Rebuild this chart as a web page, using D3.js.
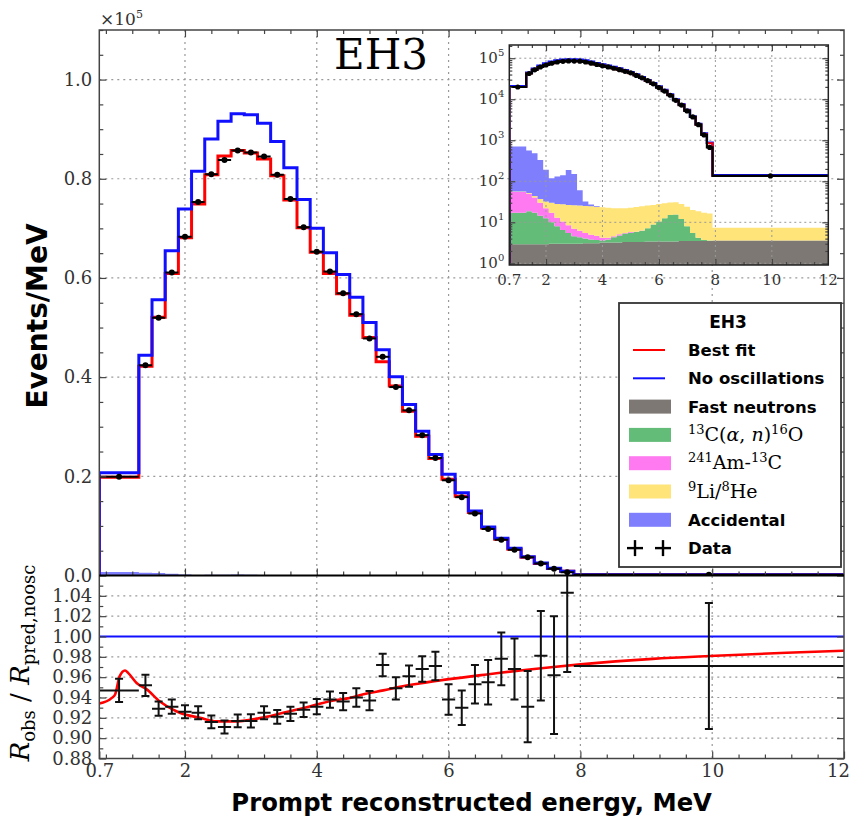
<!DOCTYPE html>
<html>
<head>
<meta charset="utf-8">
<script src="https://cdn.jsdelivr.net/npm/d3@7/dist/d3.min.js"></script>
<style>
  body { margin: 0; background: #fff; }
  .tick text { font-family: "DejaVu Serif", serif; fill: #333; }
  .tick line { stroke: #444; stroke-width: 1.2; }
</style>
</head>
<body>
<svg id="chart" width="853" height="820"></svg>
<script>
// ---- data ----
// bin edges in MeV
const binEdges = [0.7, 1.3, 1.5, 1.7, 1.9, 2.1, 2.3, 2.5, 2.7, 2.9, 3.1, 3.3, 3.5, 3.7, 3.9,
  4.1, 4.3, 4.5, 4.7, 4.9, 5.1, 5.3, 5.5, 5.7, 5.9, 6.1, 6.3, 6.5, 6.7, 6.9, 7.1, 7.3, 7.5, 7.7, 7.9, 12];
// events/MeV in units of 1e5
const dataRate = [0.199, 0.424, 0.520, 0.611, 0.683, 0.753, 0.809, 0.838, 0.857, 0.853,
  0.845, 0.808, 0.759, 0.702, 0.653, 0.613, 0.569, 0.527, 0.478, 0.441,
  0.380, 0.333, 0.283, 0.237, 0.192, 0.158, 0.125, 0.094, 0.072, 0.052,
  0.037, 0.024, 0.0135, 0.0067, 0.00135];
const bestFit = [0.198, 0.422, 0.521, 0.609, 0.681, 0.749, 0.808, 0.846, 0.857, 0.852,
  0.840, 0.806, 0.757, 0.701, 0.652, 0.609, 0.568, 0.525, 0.480, 0.431,
  0.382, 0.331, 0.281, 0.236, 0.194, 0.160, 0.127, 0.096, 0.073, 0.053,
  0.037, 0.024, 0.0140, 0.0084, 0.00135];
const noOsc = [0.207, 0.444, 0.556, 0.655, 0.739, 0.815, 0.880, 0.916, 0.931, 0.929,
  0.912, 0.875, 0.822, 0.758, 0.700, 0.651, 0.607, 0.561, 0.510, 0.455,
  0.401, 0.345, 0.291, 0.244, 0.204, 0.167, 0.130, 0.098, 0.075, 0.055,
  0.038, 0.025, 0.0147, 0.0087, 0.0014];
// backgrounds, events/MeV (each component, not stacked)
const fastNeutrons = [2.9, 2.9, 2.9, 2.9, 2.9, 3.0, 3.0, 3.0, 3.0, 3.0,
  3.0, 3.1, 3.1, 3.1, 3.2, 3.2, 3.2, 3.2, 3.3, 3.3,
  3.3, 3.3, 3.4, 3.4, 3.4, 3.4, 3.4, 3.4, 3.5, 3.5,
  3.5, 3.5, 3.5, 3.5, 3.6];
const carbonAlphaN = [14.1, 15.6, 14.1, 11.6, 9.6, 7.0, 5.0, 3.5, 2.5, 1.6,
  1.3, 0.9, 0.7, 0.6, 0.4, 0.6, 1.1, 1.6, 2.0, 2.3,
  2.5, 2.9, 3.8, 5.4, 7.1, 9.1, 11.6, 12.1, 8.5, 4.5,
  2.0, 0.7, 0.2, 0.1, 0.0];
const amC = [38, 31.5, 23, 15.5, 9.5, 7, 5, 4, 3, 2.4,
  1.9, 1.5, 1.2, 1.0, 0.6, 0.4, 0.3, 0.3, 0.2, 0.2,
  0.1, 0.1, 0, 0, 0, 0, 0, 0, 0, 0,
  0, 0, 0, 0, 0];
const liHe = [1, 2, 4, 7, 10, 13, 15, 17, 18, 19,
  19.3, 19.5, 19.5, 19.3, 19, 18.3, 17.4, 16.9, 16.5, 16.7,
  17.6, 18.2, 18.3, 17.7, 17.5, 16.5, 15.5, 15.5, 16, 16,
  14.5, 14.3, 13.3, 12.9, 3.8];
const accidental = [644, 508, 436, 293, 158, 88, 102, 112, 163, 124,
  35, 7, 2.5, 1, 0, 0, 0, 0, 0, 0,
  0, 0, 0, 0, 0, 0, 0, 0, 0, 0,
  0, 0, 0, 0, 0];
// ratio panel
const ratioVals = [0.947, 0.952, 0.929, 0.931, 0.926, 0.925, 0.916, 0.911, 0.917, 0.917,
  0.925, 0.921, 0.924, 0.928, 0.931, 0.938, 0.936, 0.940, 0.937, 0.972,
  0.949, 0.961, 0.968, 0.971, 0.938, 0.930, 0.953, 0.955, 0.978, 0.968,
  0.931, 0.981, 0.962, 1.043, 0.971];
const ratioErr = [0.0115, 0.0105, 0.007, 0.007, 0.0065, 0.0065, 0.0063, 0.0063, 0.0063, 0.0065,
  0.0065, 0.0068, 0.007, 0.0072, 0.0075, 0.008, 0.0085, 0.009, 0.0095, 0.011,
  0.011, 0.0105, 0.0125, 0.014, 0.015, 0.017, 0.019, 0.022, 0.026, 0.030,
  0.035, 0.044, 0.058, 0.078, 0.062];
const fitCurveE = [0.7, 0.89, 0.94, 1.01, 1.09, 1.14, 1.27, 1.42, 1.62, 1.82, 1.92, 2.23, 2.48, 2.73,
  2.99, 3.24, 3.49, 3.74, 4.0, 4.25, 4.5, 4.76, 5.01, 5.26, 5.56, 6.58, 7.59, 8.0, 9.1, 9.96, 11.13, 12.0];
const fitCurveR = [0.934, 0.9396, 0.943, 0.961, 0.9666, 0.964, 0.954, 0.948, 0.936, 0.928, 0.925, 0.920, 0.9165, 0.9165,
  0.918, 0.921, 0.925, 0.9287, 0.933, 0.937, 0.9396, 0.9439, 0.947, 0.9505, 0.9538, 0.9627, 0.970, 0.9726, 0.978, 0.9808, 0.984, 0.986];
// tick labels
const xTickVals = [0.7, 2, 4, 6, 8, 10, 12];
const mainYTicks = [0.0, 0.2, 0.4, 0.6, 0.8, 1.0];
const ratioYTicks = [0.88, 0.90, 0.92, 0.94, 0.96, 0.98, 1.00, 1.02, 1.04];
const insetYTicks = [1, 10, 100, 1000, 10000, 100000];
const bgKeys = ['fast', 'carbon', 'amc', 'lihe', 'acc'];
const bgColors = { fast: '#7d7873', carbon: '#63bd78', amc: '#ff7af0', lihe: '#ffe47a', acc: '#7f7ffd' };

const RED = '#ff0000', BLUE = '#1010ff';
const svg = d3.select('#chart');

const mainTop = 30, mainBot = 575.5, ratioBot = 758.5, left = 99.3, right = 844;
const x = d3.scaleLinear().domain([0.7, 12]).range([left, right]);
const y = d3.scaleLinear().domain([0, 1.1]).range([mainBot, mainTop]);
const yr = d3.scaleLinear().domain([0.88, 1.06]).range([ratioBot, mainBot]);

const centers = binEdges.slice(0, -1).map((e, i) => (e + binEdges[i + 1]) / 2);
const bgRows = centers.map((c, i) => ({
  fast: fastNeutrons[i], carbon: carbonAlphaN[i], amc: amC[i], lihe: liHe[i], acc: accidental[i]
}));
const stacked = d3.stack().keys(bgKeys)(bgRows);

function stepLine(sx, sy, vals, base) {
  let pts = [[binEdges[0], base]];
  vals.forEach((v, i) => pts.push([binEdges[i], v]));
  pts.push([binEdges[binEdges.length - 1], vals[vals.length - 1]]);
  return d3.line().x(d => sx(d[0])).y(d => sy(d[1])).curve(d3.curveStepAfter)(pts);
}
function stepArea(sx, sy, layer, floor) {
  let pts = layer.map((d, i) => ({ x: binEdges[i], y0: d[0], y1: d[1] }));
  let last = layer[layer.length - 1];
  pts.push({ x: binEdges[binEdges.length - 1], y0: last[0], y1: last[1] });
  return d3.area().x(d => sx(d.x))
    .y0(d => sy(Math.max(d.y0, floor))).y1(d => sy(Math.max(d.y1, floor)))
    .curve(d3.curveStepAfter)(pts);
}
function clean(g) { g.select('.domain').remove(); }
function minorRange(a, b, step, majorStep) {
  return d3.range(Math.round(a / step), Math.round(b / step) + 1)
    .map(k => +(k * step).toFixed(4))
    .filter(v => Math.abs(v / majorStep - Math.round(v / majorStep)) > 1e-6);
}

const defs = svg.append('defs');
defs.append('clipPath').attr('id', 'clipMain').append('rect')
  .attr('x', left).attr('y', mainTop).attr('width', right - left).attr('height', mainBot - mainTop);
defs.append('clipPath').attr('id', 'clipRatio').append('rect')
  .attr('x', left).attr('y', mainBot).attr('width', right - left).attr('height', ratioBot - mainBot);

// ---- grids ----
const grid = svg.append('g').attr('stroke', '#999').attr('stroke-width', 1.2).attr('stroke-dasharray', '2,4');
[2, 4, 6, 8, 10].forEach(v => {
  grid.append('line').attr('x1', x(v)).attr('x2', x(v)).attr('y1', mainTop).attr('y2', ratioBot);
});
[0.2, 0.4, 0.6, 0.8, 1.0].forEach(v => {
  grid.append('line').attr('x1', left).attr('x2', right).attr('y1', y(v)).attr('y2', y(v));
});
ratioYTicks.slice(1).forEach(v => {
  grid.append('line').attr('x1', left).attr('x2', right).attr('y1', yr(v)).attr('y2', yr(v));
});

// ---- main panel ----
const main = svg.append('g').attr('clip-path', 'url(#clipMain)');
stacked.forEach(layer => {
  main.append('path').attr('d', stepArea(x, v => y(v / 1e5), layer, 0))
    .attr('fill', bgColors[layer.key]);
});
main.append('path').attr('d', stepLine(x, y, bestFit, 0))
  .attr('fill', 'none').attr('stroke', RED).attr('stroke-width', 3);
main.append('path').attr('d', stepLine(x, y, noOsc, 0))
  .attr('fill', 'none').attr('stroke', BLUE).attr('stroke-width', 3);
const pts = main.append('g');
dataRate.forEach((v, i) => {
  pts.append('line').attr('x1', x(binEdges[i])).attr('x2', x(binEdges[i + 1]))
    .attr('y1', y(v)).attr('y2', y(v)).attr('stroke', '#000').attr('stroke-width', 2);
  pts.append('circle').attr('cx', x(centers[i])).attr('cy', y(v)).attr('r', 3).attr('fill', '#000');
});

// main axes ticks
const xMinor = minorRange(0.8, 11.6, 0.4, 2);
const yMinor = minorRange(0.05, 1.1, 0.05, 0.2);
[[mainBot, d3.axisBottom], [mainTop, d3.axisTop]].forEach(([yy, ax]) => {
  svg.append('g').attr('transform', `translate(0,${yy})`)
    .call(ax(x).tickValues([2, 4, 6, 8, 10]).tickSizeInner(-7).tickSizeOuter(0).tickFormat('')).call(clean);
  svg.append('g').attr('transform', `translate(0,${yy})`)
    .call(ax(x).tickValues(xMinor).tickSizeInner(-4).tickSizeOuter(0).tickFormat('')).call(clean);
});
svg.append('g').attr('transform', `translate(${left},0)`)
  .call(d3.axisLeft(y).tickValues(mainYTicks).tickSizeInner(-7).tickSizeOuter(0).tickPadding(7)
    .tickFormat(d3.format('.1f'))).call(clean)
  .selectAll('text').style('font-size', '18px');
svg.append('g').attr('transform', `translate(${left},0)`)
  .call(d3.axisLeft(y).tickValues(yMinor).tickSizeInner(-4).tickSizeOuter(0).tickFormat('')).call(clean);
svg.append('g').attr('transform', `translate(${right},0)`)
  .call(d3.axisRight(y).tickValues(mainYTicks).tickSizeInner(-7).tickSizeOuter(0).tickFormat('')).call(clean);
svg.append('g').attr('transform', `translate(${right},0)`)
  .call(d3.axisRight(y).tickValues(yMinor).tickSizeInner(-4).tickSizeOuter(0).tickFormat('')).call(clean);

// ---- ratio panel ----
const ratio = svg.append('g').attr('clip-path', 'url(#clipRatio)');
ratio.append('line').attr('x1', left).attr('x2', right).attr('y1', yr(1)).attr('y2', yr(1))
  .attr('stroke', BLUE).attr('stroke-width', 2);
const fitPts = fitCurveE.map((e, i) => [e, fitCurveR[i]]);
ratio.append('path')
  .attr('d', d3.line().x(d => x(d[0])).y(d => yr(d[1])).curve(d3.curveMonotoneX)(fitPts))
  .attr('fill', 'none').attr('stroke', RED).attr('stroke-width', 2.6);
const eb = ratio.append('g').attr('stroke', '#111').attr('stroke-width', 2);
ratioVals.forEach((v, i) => {
  const cx = x(centers[i]);
  const top = yr(v + ratioErr[i]), bot = yr(v - ratioErr[i]);
  eb.append('line').attr('x1', x(binEdges[i])).attr('x2', x(binEdges[i + 1])).attr('y1', yr(v)).attr('y2', yr(v));
  eb.append('line').attr('x1', cx).attr('x2', cx).attr('y1', top).attr('y2', bot);
  eb.append('line').attr('x1', cx - 4).attr('x2', cx + 4).attr('y1', top).attr('y2', top);
  eb.append('line').attr('x1', cx - 4).attr('x2', cx + 4).attr('y1', bot).attr('y2', bot);
});

const rMinor = minorRange(0.89, 1.05, 0.01, 0.02);
const xLab = svg.append('g').attr('transform', `translate(0,${ratioBot})`)
  .call(d3.axisBottom(x).tickValues(xTickVals).tickSizeInner(-7).tickSizeOuter(0).tickPadding(6)
    .tickFormat(d => d === 0.7 ? '0.7' : d3.format('d')(d))).call(clean);
xLab.selectAll('text').style('font-size', '18px').attr('dx', d => d === 12 ? -6 : 0);
svg.append('g').attr('transform', `translate(0,${ratioBot})`)
  .call(d3.axisBottom(x).tickValues(xMinor).tickSizeInner(-4).tickSizeOuter(0).tickFormat('')).call(clean);
svg.append('g').attr('transform', `translate(${left},0)`)
  .call(d3.axisLeft(yr).tickValues(ratioYTicks).tickSizeInner(-7).tickSizeOuter(0).tickPadding(7)
    .tickFormat(d3.format('.2f'))).call(clean)
  .selectAll('text').style('font-size', '18px');
svg.append('g').attr('transform', `translate(${left},0)`)
  .call(d3.axisLeft(yr).tickValues(rMinor).tickSizeInner(-4).tickSizeOuter(0).tickFormat('')).call(clean);
svg.append('g').attr('transform', `translate(${right},0)`)
  .call(d3.axisRight(yr).tickValues(ratioYTicks).tickSizeInner(-7).tickSizeOuter(0).tickFormat('')).call(clean);

// spines
svg.append('rect').attr('x', left).attr('y', mainTop).attr('width', right - left).attr('height', ratioBot - mainTop)
  .attr('fill', 'none').attr('stroke', '#444').attr('stroke-width', 1.5);
svg.append('line').attr('x1', left).attr('x2', right).attr('y1', mainBot).attr('y2', mainBot)
  .attr('stroke', '#000').attr('stroke-width', 2.2);

// ---- inset ----
const inL = 509.3, inR = 828.3, inT = 45, inB = 265;
const ix = d3.scaleLinear().domain([0.7, 12]).range([inL, inR]);
const iy = d3.scaleLog().domain([0.91, 2.1e5]).range([inB, inT]);
defs.append('clipPath').attr('id', 'clipInset').append('rect')
  .attr('x', inL).attr('y', inT).attr('width', inR - inL).attr('height', inB - inT);
svg.append('rect').attr('x', inL).attr('y', inT).attr('width', inR - inL).attr('height', inB - inT).attr('fill', '#fff');
const inset = svg.append('g').attr('clip-path', 'url(#clipInset)');
stacked.forEach(layer => {
  inset.append('path').attr('d', stepArea(ix, iy, layer, 0.91)).attr('fill', bgColors[layer.key]);
});
const igrid = inset.append('g').attr('stroke', '#999').attr('stroke-width', 1).attr('stroke-dasharray', '2,3');
[2, 4, 6, 8, 10].forEach(v => igrid.append('line').attr('x1', ix(v)).attr('x2', ix(v)).attr('y1', inT).attr('y2', inB));
insetYTicks.forEach(v => igrid.append('line').attr('x1', inL).attr('x2', inR).attr('y1', iy(v)).attr('y2', iy(v)));
inset.append('path').attr('d', stepLine(ix, iy, noOsc.map(v => v * 1e5), 0.91))
  .attr('fill', 'none').attr('stroke', BLUE).attr('stroke-width', 2.5);
inset.append('path').attr('d', stepLine(ix, iy, bestFit.map(v => v * 1e5), 0.91))
  .attr('fill', 'none').attr('stroke', RED).attr('stroke-width', 2);
inset.append('path').attr('d', stepLine(ix, iy, dataRate.map(v => v * 1e5), 0.91))
  .attr('fill', 'none').attr('stroke', '#000').attr('stroke-width', 2.2);
dataRate.forEach((v, i) => {
  inset.append('circle').attr('cx', ix(centers[i])).attr('cy', iy(v * 1e5)).attr('r', 2.6).attr('fill', '#000');
});
const iyMinor = [];
insetYTicks.forEach(d => [2, 3, 4, 5, 6, 7, 8, 9].forEach(k => { if (d * k < 2.1e5) iyMinor.push(d * k); }));
const ixMinor = minorRange(1, 11.5, 0.5, 2).filter(v => v > 0.7);
[[inB, d3.axisBottom], [inT, d3.axisTop]].forEach(([yy, ax]) => {
  svg.append('g').attr('transform', `translate(0,${yy})`)
    .call(ax(ix).tickValues([2, 4, 6, 8, 10]).tickSizeInner(-6).tickSizeOuter(0).tickFormat('')).call(clean);
  svg.append('g').attr('transform', `translate(0,${yy})`)
    .call(ax(ix).tickValues(ixMinor).tickSizeInner(-3).tickSizeOuter(0).tickFormat('')).call(clean);
});
[[inL, d3.axisLeft], [inR, d3.axisRight]].forEach(([xx, ax]) => {
  svg.append('g').attr('transform', `translate(${xx},0)`)
    .call(ax(iy).tickValues(insetYTicks).tickSizeInner(-6).tickSizeOuter(0).tickFormat('')).call(clean);
  svg.append('g').attr('transform', `translate(${xx},0)`)
    .call(ax(iy).tickValues(iyMinor).tickSizeInner(-3).tickSizeOuter(0).tickFormat('')).call(clean);
});
svg.append('rect').attr('x', inL).attr('y', inT).attr('width', inR - inL).attr('height', inB - inT)
  .attr('fill', 'none').attr('stroke', '#222').attr('stroke-width', 1.5);
xTickVals.forEach(v => {
  svg.append('text').attr('x', ix(v)).attr('y', inB + 20).attr('text-anchor', 'middle')
    .style('font-family', 'DejaVu Serif').style('font-size', '15px').attr('fill', '#333')
    .text(v === 0.7 ? '0.7' : v);
});
insetYTicks.forEach((v, k) => {
  const t = svg.append('text').attr('x', inL - 5).attr('y', iy(v) + 5).attr('text-anchor', 'end')
    .style('font-family', 'DejaVu Serif').style('font-size', '15px').attr('fill', '#333');
  t.append('tspan').text('10');
  t.append('tspan').attr('dy', -7).style('font-size', '10px').text(k);
});

// ---- legend ----
const legendLabels = [
  [{ t: 'Best fit' }],
  [{ t: 'No oscillations' }],
  [{ t: 'Fast neutrons' }],
  [{ t: '13', sup: 1 }, { t: 'C(' }, { t: 'α', it: 1 }, { t: ', ' }, { t: 'n', it: 1 }, { t: ')' }, { t: '16', sup: 1 }, { t: 'O' }],
  [{ t: '241', sup: 1 }, { t: 'Am-' }, { t: '13', sup: 1 }, { t: 'C' }],
  [{ t: '9', sup: 1 }, { t: 'Li/' }, { t: '8', sup: 1 }, { t: 'He' }],
  [{ t: 'Accidental' }],
  [{ t: 'Data' }]
];
const legendHandles = [
  { kind: 'line', color: RED }, { kind: 'line', color: BLUE },
  { kind: 'patch', color: bgColors.fast }, { kind: 'patch', color: bgColors.carbon },
  { kind: 'patch', color: bgColors.amc }, { kind: 'patch', color: bgColors.lihe },
  { kind: 'patch', color: bgColors.acc }, { kind: 'data' }
];
const lg = svg.append('g');
lg.append('rect').attr('x', 619).attr('y', 303).attr('width', 222).attr('height', 264)
  .attr('fill', '#fff').attr('stroke', '#333').attr('stroke-width', 1.8);
lg.append('text').attr('x', 728).attr('y', 328).attr('text-anchor', 'middle')
  .style('font-family', 'DejaVu Sans').style('font-weight', 'bold').style('font-size', '17px').text('EH3');
legendLabels.forEach((segs, i) => {
  const cy = 350 + i * 28.3;
  const h = legendHandles[i];
  if (h.kind === 'line') {
    lg.append('line').attr('x1', 633).attr('x2', 665).attr('y1', cy).attr('y2', cy)
      .attr('stroke', h.color).attr('stroke-width', 2);
  } else if (h.kind === 'patch') {
    lg.append('rect').attr('x', 629).attr('y', cy - 7).attr('width', 42).attr('height', 14).attr('fill', h.color);
  } else {
    [635, 663].forEach(px => {
      lg.append('line').attr('x1', px - 8).attr('x2', px + 8).attr('y1', cy).attr('y2', cy).attr('stroke', '#000').attr('stroke-width', 2.4);
      lg.append('line').attr('x1', px).attr('x2', px).attr('y1', cy - 8).attr('y2', cy + 8).attr('stroke', '#000').attr('stroke-width', 2.4);
    });
  }
  const math = segs.length > 1;
  const t = lg.append('text').attr('x', 688).attr('y', cy + 6)
    .style('font-family', math ? 'DejaVu Serif' : 'DejaVu Sans')
    .style('font-weight', math ? 'normal' : 'bold').style('font-size', math ? '19px' : '16.5px');
  segs.forEach(s => {
    const sp = t.append('tspan').text(s.t);
    if (s.sup) sp.attr('baseline-shift', 'super').style('font-size', '13px');
    if (s.it) sp.style('font-style', 'italic');
  });
});

// ---- labels ----
svg.append('text').attr('x', 381).attr('y', 69).attr('text-anchor', 'middle')
  .style('font-family', 'DejaVu Serif').style('font-size', '42px').text('EH3');
const mult = svg.append('text').attr('x', 100).attr('y', 25)
  .style('font-family', 'DejaVu Serif').style('font-size', '17px').attr('fill', '#333');
mult.append('tspan').text('×10');
mult.append('tspan').attr('dy', -7).style('font-size', '11px').text('5');
svg.append('text').attr('transform', 'translate(47,316) rotate(-90)').attr('text-anchor', 'middle')
  .style('font-family', 'DejaVu Sans').style('font-weight', 'bold').style('font-size', '28px').text('Events/MeV');
svg.append('text').attr('x', (left + right) / 2).attr('y', 811).attr('text-anchor', 'middle')
  .style('font-family', 'DejaVu Sans').style('font-weight', 'bold').style('font-size', '24.3px')
  .text('Prompt reconstructed energy, MeV');
const rl = svg.append('text').attr('transform', 'translate(29,663) rotate(-90)').attr('text-anchor', 'middle')
  .style('font-family', 'DejaVu Serif').style('font-size', '26px');
rl.append('tspan').style('font-style', 'italic').text('R');
rl.append('tspan').attr('dy', 6).style('font-size', '18px').text('obs');
rl.append('tspan').attr('dy', -6).text(' / ');
rl.append('tspan').style('font-style', 'italic').text('R');
rl.append('tspan').attr('dy', 6).style('font-size', '18px').text('pred,noosc');
</script>
</body>
</html>
